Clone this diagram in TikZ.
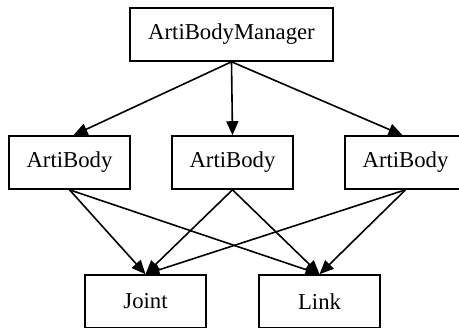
\documentclass[tikz,border=0pt]{standalone}
\usepackage{fontspec}
\setmainfont{Liberation Serif}
\usetikzlibrary{arrows.meta}
\begin{document}
\begin{tikzpicture}[x=1bp,y=-1bp,
  box/.style={draw,line width=1.6bp,minimum height=53bp,inner sep=0pt,
    font=\fontsize{22.8}{27}\selectfont},
  wide/.style={box,minimum width=203bp},
  narrow/.style={box,minimum width=121bp},
  arr/.style={line width=1.6bp,-{Triangle[length=14bp,width=12bp]}}]
\useasboundingbox (0,0) rectangle (459,327);
\clip (0,0) rectangle (459,327);
\node[wide] (m) at (231.5,34.5) {ArtiBodyManager};
\node[narrow] (a1) at (69.5,162.5) {ArtiBody};
\node[narrow] (a2) at (232.5,162.5) {ArtiBody};
\node[narrow] (a3) at (405.5,162.5) {ArtiBody};
\node[narrow] (j) at (145.5,301.5) {Joint};
\node[narrow] (l) at (319.5,301.5) {Link};
\draw[arr] (m.south) -- ([xshift=4bp]a1.north);
\draw[arr] (m.south) -- (a2.north);
\draw[arr] (m.south) -- ([xshift=-3bp]a3.north);
\draw[arr] (a1.south) -- (j.north);
\draw[arr] (a1.south) -- (l.north);
\draw[arr] (a2.south) -- (j.north);
\draw[arr] (a2.south) -- (l.north);
\draw[arr] (a3.south) -- (j.north);
\draw[arr] (a3.south) -- (l.north);
\end{tikzpicture}
\end{document}
